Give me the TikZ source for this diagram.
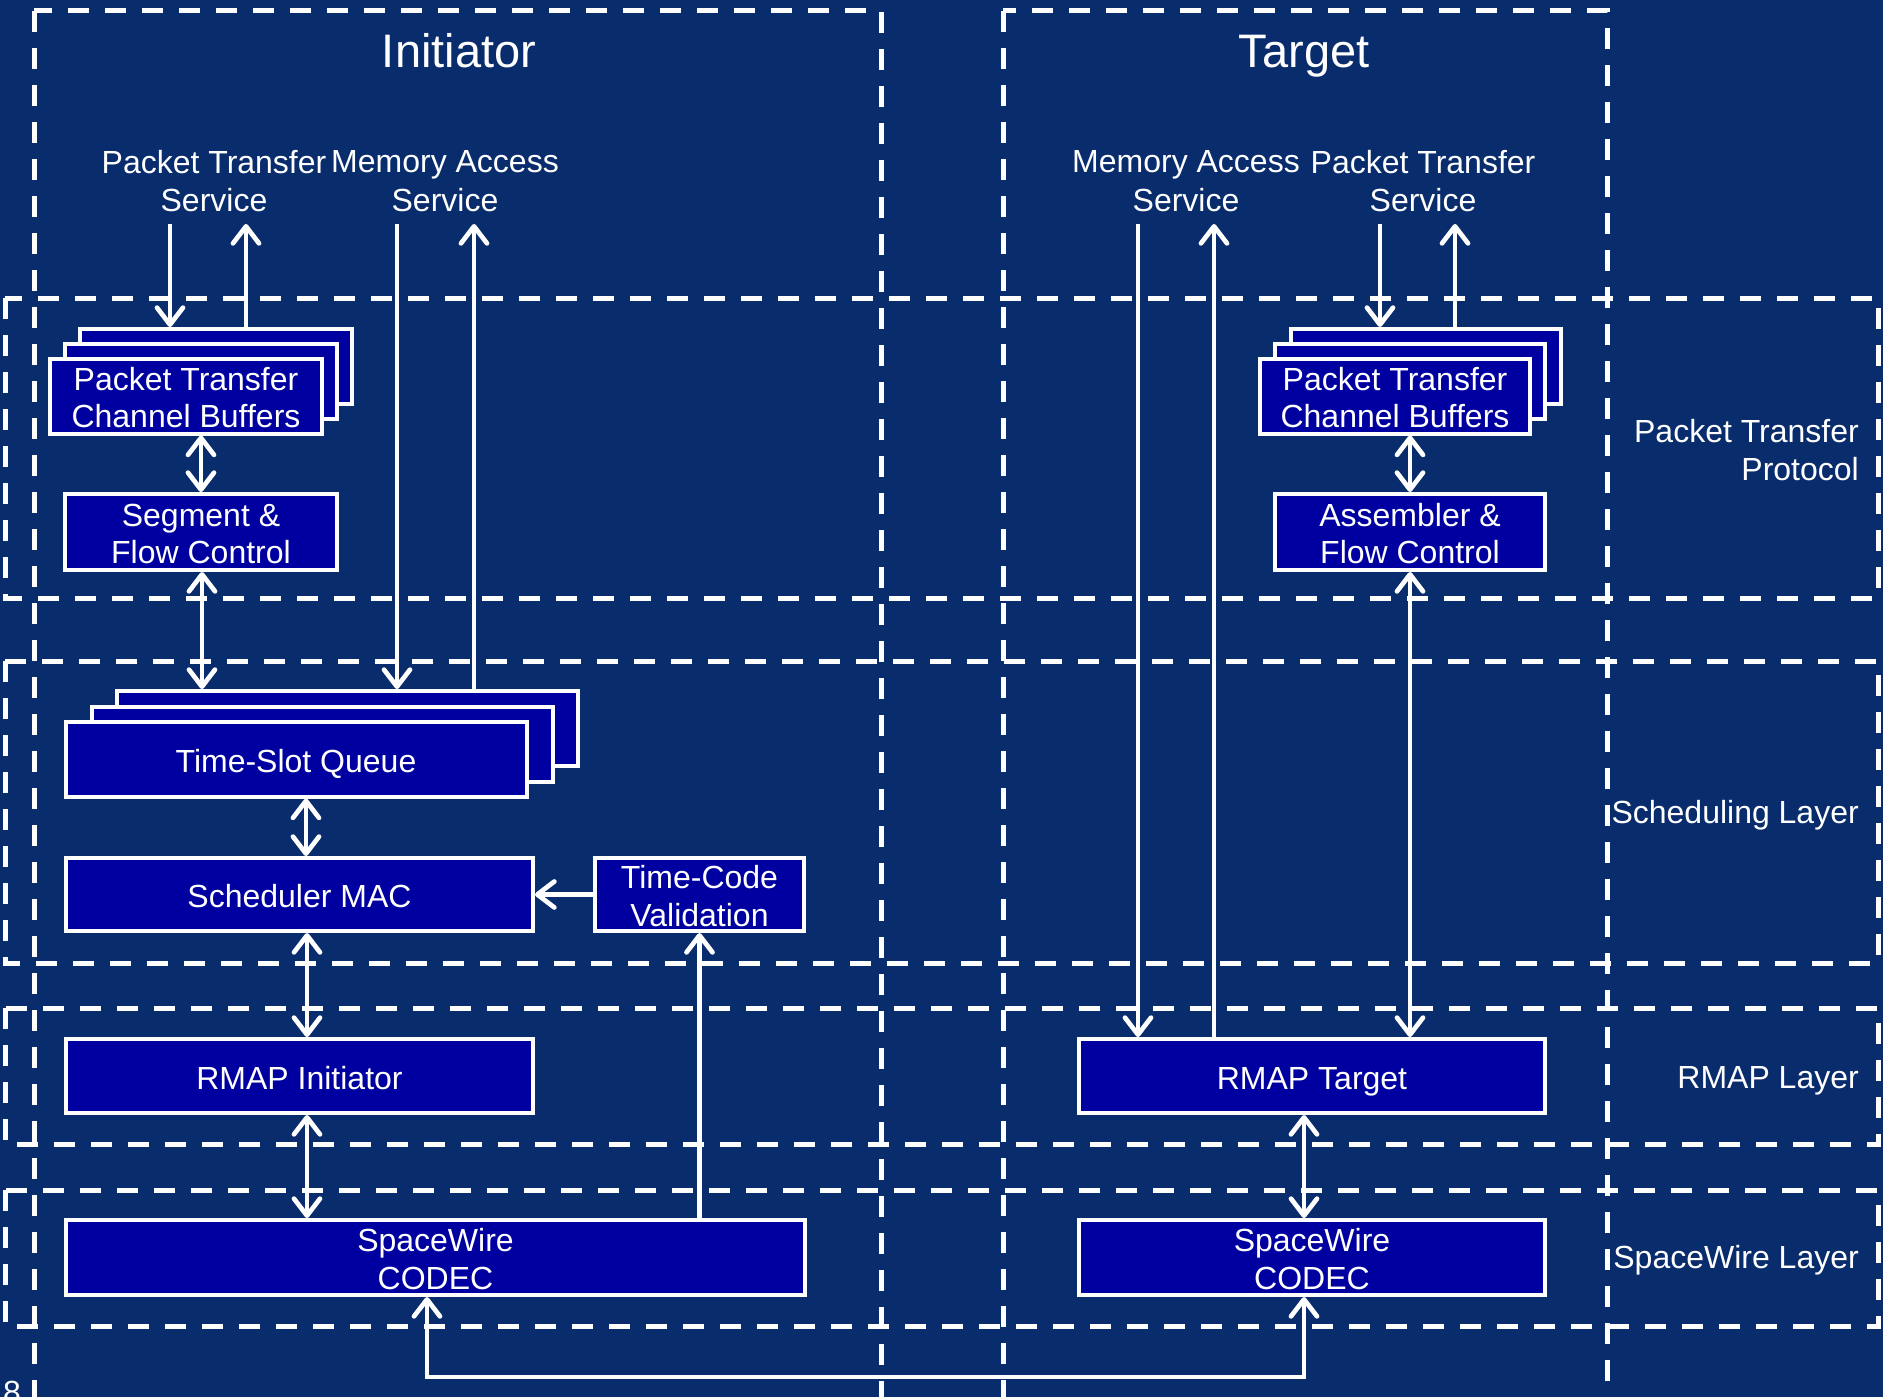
\documentclass[tikz,border=0pt]{standalone}
\usepackage{fontspec}
\setmainfont{Liberation Sans}
\usetikzlibrary{arrows.meta}
\definecolor{bgnavy}{RGB}{9,44,108}
\definecolor{boxblue}{RGB}{0,0,160}
\newcommand\fsA{\fontsize{32}{38.5}\selectfont}
\newcommand\fsB{\fontsize{32}{37.5}\selectfont}
\newcommand\fsT{\fontsize{47}{56}\selectfont}
\newcommand\tstrut{\rule{0pt}{26pt}}
\begin{document}
\begin{tikzpicture}[x=1pt,y=-1pt,
  lay/.style={draw=white, line width=5pt, dash pattern=on 21pt off 16pt},
  blk/.style={draw=white, fill=boxblue, line width=4pt, text=white, font=\fsB, align=center, inner sep=0pt, text depth=0pt},
  lbl/.style={text=white, font=\fsA, align=center, inner sep=0pt},
  ttl/.style={text=white, font=\fsT, inner sep=0pt},
  conn/.style={draw=white, line width=4.7pt},
  barb/.tip={Straight Barb[length=17pt,width=26pt,round]},
  arr/.style={conn, -barb},
  dbl/.style={conn, barb-barb}]
\useasboundingbox (0,0) rectangle (1883,1397);
\fill[bgnavy] (0,0) rectangle (1883,1397);
\begin{scope}
\clip (0,0) rectangle (1883,1397);
% dashed frames
\draw[lay] (34,11) rectangle (881,1430);
\draw[lay] (1003,11) rectangle (1607,1430);
\draw[lay] (5,298) rectangle (1878,598);
\draw[lay] (5,661) rectangle (1878,963);
\draw[lay] (5,1008) rectangle (1878,1144);
\draw[lay] (5,1190) rectangle (1878,1326);
\end{scope}

% titles and labels
\node[ttl, anchor=base] (tI) at (459,67) {Initiator};
\node[ttl, anchor=base] (tT) at (1304,67) {Target};
\node[lbl] (svPTi) at (214,181) {Packet Transfer\\Service};
\node[lbl] (svMAi) at (445,181) {Memory Access\\Service};
\node[lbl] (svMAt) at (1186,181) {Memory Access\\Service};
\node[lbl] (svPTt) at (1423,181) {Packet Transfer\\Service};
\node[lbl, align=right, anchor=east] (lPTP) at (1859,450) {Packet Transfer\\Protocol};
\node[lbl, anchor=base east] (lSch) at (1859,823) {Scheduling Layer};
\node[lbl, anchor=base east] (lRMAP) at (1859,1088) {RMAP Layer};
\node[lbl, anchor=base east] (lSW) at (1859,1268) {SpaceWire Layer};
\node[lbl, anchor=north west] (pg) at (3,1381) {8};

% initiator blocks
\node[blk, minimum width=272pt, minimum height=75pt] (ptcbIb) at (216,366.5) {};
\node[blk, minimum width=272pt, minimum height=75pt] (ptcbIm) at (201,381) {};
\node[blk, minimum width=272pt, minimum height=75pt] (ptcbIf) at (186,396) {\tstrut Packet Transfer\\Channel Buffers};
\node[blk, minimum width=272pt, minimum height=76pt] (segI) at (201,532) {\tstrut Segment \&\\Flow Control};
\node[blk, minimum width=461pt, minimum height=75pt] (tsqIb) at (347.5,728.5) {};
\node[blk, minimum width=461pt, minimum height=75pt] (tsqIm) at (322,744) {};
\node[blk, minimum width=461pt, minimum height=75pt] (tsqIf) at (296,759) {\tstrut Time-Slot Queue};
\node[blk, minimum width=467pt, minimum height=73pt] (schI) at (299.5,894.5) {\tstrut Scheduler MAC};
\node[blk, minimum width=209pt, minimum height=73pt] (tcv) at (699.5,894.5) {\tstrut Time-Code\\Validation};
\node[blk, minimum width=467pt, minimum height=74pt] (rmapI) at (299.5,1076) {\tstrut RMAP Initiator};
\node[blk, minimum width=739pt, minimum height=75pt] (swI) at (435.5,1257.5) {\tstrut SpaceWire\\CODEC};

% target blocks
\node[blk, minimum width=270pt, minimum height=75pt] (ptcbTb) at (1426,366.5) {};
\node[blk, minimum width=270pt, minimum height=75pt] (ptcbTm) at (1410,381) {};
\node[blk, minimum width=270pt, minimum height=75pt] (ptcbTf) at (1395,396) {\tstrut Packet Transfer\\Channel Buffers};
\node[blk, minimum width=270pt, minimum height=76pt] (asmT) at (1410,532) {\tstrut Assembler \&\\Flow Control};
\node[blk, minimum width=466pt, minimum height=74pt] (rmapT) at (1312,1076) {\tstrut RMAP Target};
\node[blk, minimum width=466pt, minimum height=75pt] (swT) at (1312,1257.5) {\tstrut SpaceWire\\CODEC};

% service line ends and x positions
\coordinate (a1) at (170,224);
\coordinate (a2) at (246,224);
\coordinate (a3) at (397,224);
\coordinate (a4) at (474,224);
\coordinate (a5) at (1138,224);
\coordinate (a6) at (1214,224);
\coordinate (a7) at (1380,224);
\coordinate (a8) at (1455,224);
\coordinate (xs) at (202,0);
\coordinate (xq) at (306,0);
\coordinate (xr) at (307,0);
\coordinate (xt) at (1304,0);
\coordinate (bl) at (427,1377);
\coordinate (br) at (1304,1377);

% initiator connectors
\draw[arr] (a1) -- (a1 |- ptcbIb.north);
\draw[arr] (a2 |- ptcbIb.north) -- (a2);
\draw[arr] (a3) -- (a3 |- tsqIb.north);
\draw[arr] (a4 |- tsqIb.north) -- (a4);
\draw[dbl] (ptcbIf.south -| segI.north) -- (segI.north);
\draw[dbl] (segI.south -| xs) -- (tsqIb.north -| xs);
\draw[dbl] (tsqIf.south -| xq) -- (schI.north -| xq);
\draw[arr] (tcv.west) -- (schI.east);
\draw[dbl] (schI.south -| xr) -- (rmapI.north -| xr);
\draw[dbl] (rmapI.south -| xr) -- (swI.north -| xr);
\draw[arr] (swI.north -| tcv.south) -- (tcv.south);
\draw[dbl] (swI.south -| bl) -- (bl) -- (br) -- (swT.south -| br);

% target connectors
\draw[arr] (a5) -- (a5 |- rmapT.north);
\draw[arr] (a6 |- rmapT.north) -- (a6);
\draw[arr] (a7) -- (a7 |- ptcbTb.north);
\draw[arr] (a8 |- ptcbTb.north) -- (a8);
\draw[dbl] (ptcbTf.south -| asmT.north) -- (asmT.north);
\draw[dbl] (asmT.south) -- (asmT.south |- rmapT.north);
\draw[dbl] (rmapT.south -| xt) -- (swT.north -| xt);
\end{tikzpicture}
\end{document}
